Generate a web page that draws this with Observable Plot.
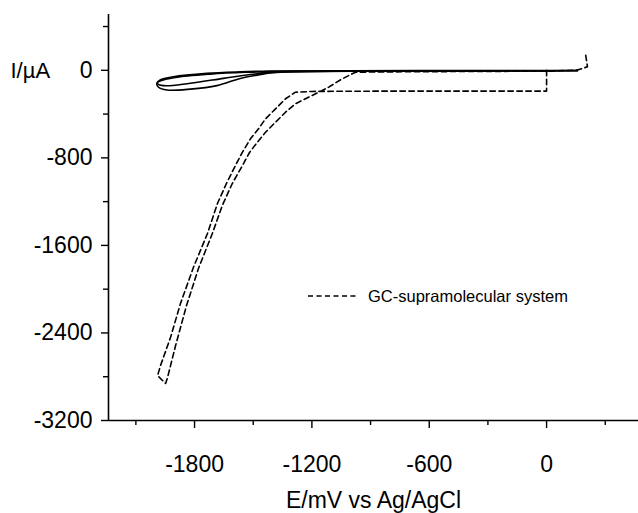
<!DOCTYPE html>
<html><head><meta charset="utf-8">
<script src="https://cdn.jsdelivr.net/npm/d3@7"></script>
<script src="https://cdn.jsdelivr.net/npm/@observablehq/plot@0.6"></script>
<style>
html,body{margin:0;padding:0;background:#fff;}
#chart svg{display:block;}
</style></head><body><div id="chart"></div>
<script>
// ---- tick labels / text ----
const xMajorTicks = [-1800, -1200, -600, 0];
const xMinorTicks = [-2100, -1500, -900, -300, 300];
const yMajorTicks = [0, -800, -1600, -2400, -3200];
const yMinorTicks = [400, -400, -1200, -2000, -2800];
const xDomain = [-2240, 470];
const yDomain = [-3200, 510];
const xLabel = "E/mV vs Ag/AgCl";
const yLabel = "I/\u00B5A";
const legendLabel = "GC-supramolecular system";

// ---- GC-supramolecular system (dashed) : potential mV, current uA ----
const gcE = [0, 0, -300, -700, -1000, -1200, -1284, -1335, -1386, -1437, -1473, -1514, -1555, -1586, -1637, -1683, -1734, -1806, -1872, -1923, -1974, -1989, -1948,
  -1938, -1897, -1841, -1780, -1709, -1658, -1607, -1555, -1519, -1484, -1437, -1386, -1335, -1284, -1233, -1165, -1114, -1045, -977, -700, -300, 0, 157, 209, 200];
const gcI = [0, -190, -190, -190, -191, -193, -200, -260, -352, -443, -535, -626, -748, -852, -1034, -1217, -1491, -1802, -2131, -2442, -2698, -2789, -2862,
  -2807, -2515, -2149, -1811, -1491, -1235, -1034, -870, -751, -669, -566, -474, -383, -306, -260, -200, -154, -78, -17, -13, -10, -8, 2, 32, 138];

// ---- solid cycles ----
const cycle1E = [158, 0, -500, -1000, -1300, -1400, -1481, -1566, -1686, -1822, -1941, -1984, -1993, -1976, -1908, -1737, -1566, -1413, -1000, -500, 0, 158];
const cycle1I = [-3, -5, -6, -8, -12, -22, -44, -74, -140, -172, -180, -155, -119, -89, -59, -28, -14, -7, -4, -3, -3, -2];
const cycle2E = [158, 0, -1000, -1361, -1515, -1652, -1822, -1959, -1991, -1976, -1899, -1720, -1541, -1310, -1000, 0, 158];
const cycle2I = [-4, -6, -9, -16, -39, -74, -118, -140, -117, -98, -66, -35, -18, -9, -6, -4, -3];

const gc = gcE.map((e, i) => ({E: e, I: gcI[i]}));
const solid = [
  ...cycle1E.map((e, i) => ({E: e, I: cycle1I[i], c: "1"})),
  ...cycle2E.map((e, i) => ({E: e, I: cycle2I[i], c: "2"}))
];

const font = "'Liberation Sans', Arial, Helvetica, sans-serif";

const legendMark = (index, scales, values, dims) => {
  const g = d3.create("svg:g");
  const x0 = dims.marginLeft + 200, y0 = dims.marginTop + 282;
  g.append("line").attr("x1", x0).attr("x2", x0 + 50).attr("y1", y0).attr("y2", y0)
    .attr("stroke", "#000").attr("stroke-width", 1.3).attr("stroke-dasharray", "5,3.5");
  g.append("text").attr("x", x0 + 60).attr("y", y0).attr("dy", "0.35em")
    .attr("text-anchor", "start")
    .attr("font-size", 16.5).attr("font-family", font).attr("fill", "#000").text(legendLabel);
  return g.node();
};

const plot = Plot.plot({
  width: 638, height: 513,
  marginLeft: 108, marginRight: 0, marginTop: 14, marginBottom: 93,
  style: {fontFamily: font, fontSize: "22px", color: "#000", background: "#fff"},
  x: {domain: xDomain, axis: null},
  y: {domain: yDomain, axis: null},
  marks: [
    Plot.line(solid, {x: "E", y: "I", z: "c", stroke: "#000", strokeWidth: 1.6, curve: "catmull-rom"}),
    Plot.line(gc, {x: "E", y: "I", stroke: "#000", strokeWidth: 1.6, strokeDasharray: "5.5,3.5"}),
    Plot.ruleX([xDomain[0]], {stroke: "#000", strokeWidth: 1.6}),
    Plot.ruleY([yDomain[0]], {stroke: "#000", strokeWidth: 1.6}),
    Plot.axisY({ticks: yMajorTicks, tickSize: 7, tickPadding: 9, tickFormat: d => String(d), fontSize: 23, label: null, strokeWidth: 1.4}),
    Plot.axisY({ticks: yMinorTicks, tickSize: 5, tickFormat: () => "", label: null, strokeWidth: 1.4}),
    Plot.axisX({ticks: xMajorTicks, tickSize: 8, tickPadding: 27, tickFormat: d => String(d), fontSize: 23, label: null, strokeWidth: 1.4}),
    Plot.axisX({ticks: xMinorTicks, tickSize: 5, tickFormat: () => "", label: null, strokeWidth: 1.4}),
    Plot.text([yLabel], {frameAnchor: "top-left", dx: -98, dy: 56, textAnchor: "start", lineAnchor: "middle", fontSize: 22}),
    Plot.text([xLabel], {frameAnchor: "bottom", dy: 87, lineAnchor: "bottom", fontSize: 23}),
    legendMark
  ]
});
document.getElementById("chart").appendChild(plot);
</script></body></html>
